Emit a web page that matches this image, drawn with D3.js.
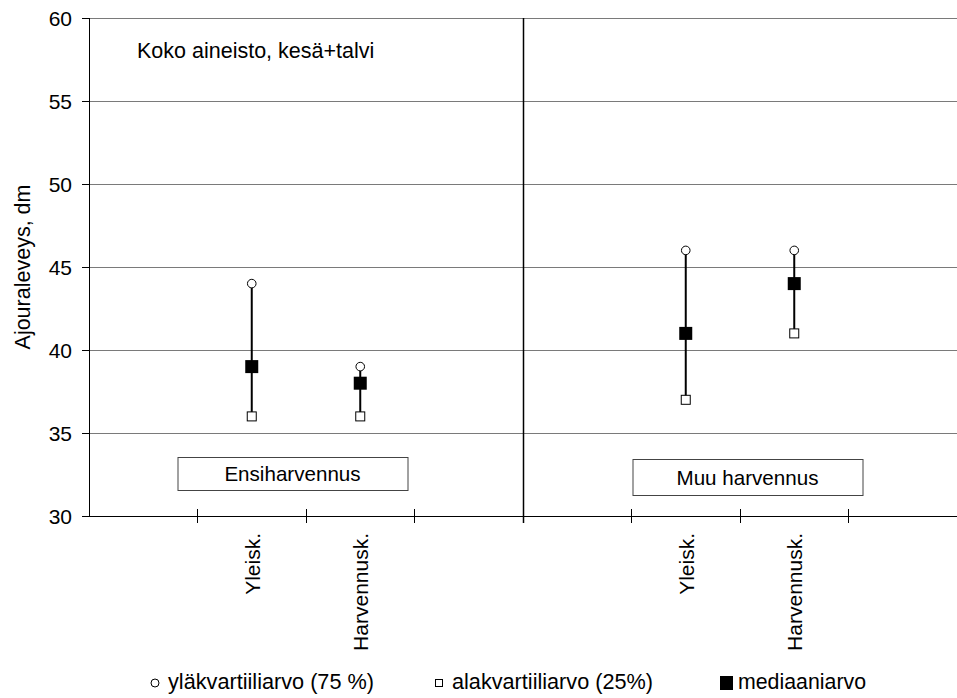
<!DOCTYPE html>
<html>
<head>
<meta charset="utf-8">
<script src="https://cdn.jsdelivr.net/npm/d3@7"></script>
<style>
  body { margin: 0; background: #fff; }
  svg { display: block; }
  text { font-family: "Liberation Sans", Arial, sans-serif; fill: #000; }
</style>
</head>
<body>
<svg id="chart" width="957" height="698"></svg>
<script>
// Category slots along the x axis (empty slots pad the groups)
const slots = ["s0", "s1", "s2", "s3", "s4", "s5", "s6", "s7"];
const slotLabels = ["", "Yleisk.", "Harvennusk.", "", "", "Yleisk.", "Harvennusk.", ""];
const groupNames = ["Ensiharvennus", "Muu harvennus"];

// Quartile values (dm) per plotted slot
const pointSlots = ["s1", "s2", "s5", "s6"];
const upperQuartile = [44, 39, 46, 46];
const medianValue = [39, 38, 41, 44];
const lowerQuartile = [36, 36, 37, 41];

const yTicks = [30, 35, 40, 45, 50, 55, 60];
const legendLabels = ["yläkvartiiliarvo (75 %)", "alakvartiiliarvo (25%)", "mediaaniarvo"];

const svg = d3.select("#chart");
const plotL = 89, plotR = 957, plotT = 18, plotB = 516;
const FS = 21;

const x = d3.scaleBand().domain(slots).range([plotL, plotR]).padding(0);
const y = d3.scaleLinear().domain([30, 60]).range([plotB, plotT]);

// Horizontal gridlines
svg.append("g").selectAll("line").data(yTicks.filter(d => d > 30)).join("line")
  .attr("x1", plotL).attr("x2", plotR)
  .attr("y1", d => y(d)).attr("y2", d => y(d))
  .attr("stroke", "#7a7a7a").attr("stroke-width", 1).attr("shape-rendering", "crispEdges");

// Y axis
const yAxis = svg.append("g").attr("transform", `translate(${plotL},0)`)
  .call(d3.axisLeft(y).tickValues(yTicks).tickSize(7).tickPadding(10));
yAxis.select(".domain").attr("stroke", "#000").attr("shape-rendering", "crispEdges");
yAxis.selectAll(".tick line").attr("stroke", "#000").attr("shape-rendering", "crispEdges");
yAxis.selectAll("text").attr("font-size", FS).attr("font-family", "Liberation Sans, Arial, sans-serif")
  .attr("dy", "0.36em");

// Group divider
svg.append("line")
  .attr("x1", x("s4") + 0.5).attr("x2", x("s4") + 0.5)
  .attr("y1", plotT).attr("y2", plotB + 7)
  .attr("stroke", "#000").attr("stroke-width", 1.5);

// X axis with ticks at slot boundaries
svg.append("line").attr("x1", plotL).attr("x2", plotR).attr("y1", plotB).attr("y2", plotB)
  .attr("stroke", "#000").attr("shape-rendering", "crispEdges");
svg.append("g").selectAll("line").data(slots.slice(1)).join("line")
  .attr("x1", d => x(d)).attr("x2", d => x(d))
  .attr("y1", plotB - 7).attr("y2", plotB + 7)
  .attr("stroke", "#000").attr("shape-rendering", "crispEdges");

// Category labels (rotated)
svg.append("g").selectAll("text").data(slots.filter((s, i) => slotLabels[i])).join("text")
  .attr("transform", d => `translate(${x(d) + x.bandwidth() / 2 + 8},533) rotate(-90)`)
  .attr("text-anchor", "end").attr("font-size", FS)
  .text(d => slotLabels[slots.indexOf(d)]);

// Group name boxes (annotation layout)
const boxLayout = [
  { x0: x("s1") - 20, x1: x("s3") - 7, y0: 457, y1: 490 },
  { x0: x("s5") + 1, x1: x("s7") + 14, y0: 459, y1: 495 }
];
groupNames.forEach((name, i) => {
  const b = boxLayout[i];
  const g = svg.append("g");
  g.append("rect").attr("x", b.x0 + 0.5).attr("y", b.y0 + 0.5)
    .attr("width", b.x1 - b.x0).attr("height", b.y1 - b.y0)
    .attr("fill", "#fff").attr("stroke", "#444");
  g.append("text").attr("x", (b.x0 + b.x1) / 2).attr("y", (b.y0 + b.y1) / 2 + 7.5)
    .attr("text-anchor", "middle").attr("font-size", 20.6).text(name);
});

// Title note
svg.append("text").attr("x", 137).attr("y", 58).attr("font-size", 21.5)
  .text("Koko aineisto, kesä+talvi");

// Y axis title
svg.append("text").attr("transform", `translate(30,${(plotT + plotB) / 2}) rotate(-90)`)
  .attr("text-anchor", "middle").attr("font-size", 21.5).text("Ajouraleveys, dm");

// Quartile ranges and markers
const pts = pointSlots.map((s, i) => ({
  cx: x(s) + x.bandwidth() / 2,
  hi: upperQuartile[i], med: medianValue[i], lo: lowerQuartile[i]
}));
const mk = svg.append("g");
mk.selectAll("line").data(pts).join("line")
  .attr("x1", d => d.cx).attr("x2", d => d.cx)
  .attr("y1", d => y(d.hi)).attr("y2", d => y(d.lo))
  .attr("stroke", "#000").attr("stroke-width", 2);
mk.selectAll("circle").data(pts).join("circle")
  .attr("cx", d => d.cx).attr("cy", d => y(d.hi)).attr("r", 4.3)
  .attr("fill", "#fff").attr("stroke", "#000").attr("stroke-width", 1);
mk.selectAll("rect.lo").data(pts).join("rect").attr("class", "lo")
  .attr("x", d => d.cx - 4.5).attr("y", d => y(d.lo) - 4.5)
  .attr("width", 9).attr("height", 9)
  .attr("fill", "#fff").attr("stroke", "#000").attr("stroke-width", 1);
mk.selectAll("rect.med").data(pts).join("rect").attr("class", "med")
  .attr("x", d => d.cx - 6.5).attr("y", d => y(d.med) - 6.5)
  .attr("width", 13).attr("height", 13).attr("fill", "#000");

// Legend
const lg = svg.append("g");
const ly = 683, lb = 689;
lg.append("circle").attr("cx", 155).attr("cy", ly).attr("r", 4)
  .attr("fill", "#fff").attr("stroke", "#000");
lg.append("text").attr("x", 168).attr("y", lb).attr("font-size", 22.5)
  .attr("textLength", 206).attr("lengthAdjust", "spacingAndGlyphs").text(legendLabels[0]);
lg.append("rect").attr("x", 435.5).attr("y", ly - 3.5).attr("width", 7).attr("height", 7)
  .attr("fill", "#fff").attr("stroke", "#000");
lg.append("text").attr("x", 452).attr("y", lb).attr("font-size", 22.5)
  .attr("textLength", 201).attr("lengthAdjust", "spacingAndGlyphs").text(legendLabels[1]);
lg.append("rect").attr("x", 720).attr("y", ly - 7).attr("width", 13).attr("height", 14)
  .attr("fill", "#000");
lg.append("text").attr("x", 738).attr("y", lb).attr("font-size", 22.5)
  .attr("textLength", 128).attr("lengthAdjust", "spacingAndGlyphs").text(legendLabels[2]);
</script>
</body>
</html>
